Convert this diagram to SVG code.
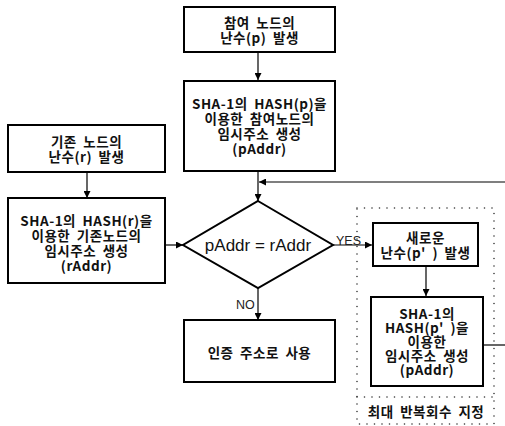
<svg xmlns="http://www.w3.org/2000/svg" width="505" height="426" viewBox="0 0 505 426">
<defs>
<marker id="arr" viewBox="0 0 10 10" refX="10" refY="5" markerWidth="7" markerHeight="7" markerUnits="userSpaceOnUse" orient="auto">
<path d="M0,0 L10,5 L0,10 z" fill="#000"/>
</marker>
<style>
.box{fill:#fff;stroke:#000;stroke-width:2}
.t{font-family:"Noto Sans CJK KR","Liberation Sans",sans-serif;font-weight:bold;font-size:13.5px;letter-spacing:0.5px;word-spacing:3px;text-anchor:middle;dominant-baseline:central;fill:#111}
.n{font-family:"Liberation Sans","Noto Sans CJK KR",sans-serif;font-size:12.5px;fill:#222}
.c{fill:none;stroke:#000;stroke-width:1.2}
.dot{fill:none;stroke:#333;stroke-width:1.6;stroke-linecap:round;stroke-dasharray:0 7.5}
</style>
</defs>
<rect width="505" height="426" fill="#fff"/>

<g id="group-dotted">
<path class="dot" d="M357,208 H494 V424 H357 Z"/>
<path class="dot" d="M357,397 H494"/>
<text class="t" x="426" y="411">최대 반복회수 지정</text>
</g>

<g id="connectors">
<path class="c" d="M258,52 V80" marker-end="url(#arr)"/>
<path class="c" d="M258,171 V201" marker-end="url(#arr)"/>
<path class="c" d="M505,182 H259" marker-end="url(#arr)"/>
<path class="c" d="M87,172 V198" marker-end="url(#arr)"/>
<path class="c" d="M165,245 H183" marker-end="url(#arr)"/>
<path class="c" d="M333,245 H372" marker-end="url(#arr)"/>
<path class="c" d="M258,288 V320" marker-end="url(#arr)"/>
<path class="c" d="M426,266 V296" marker-end="url(#arr)"/>
<path class="c" d="M483,345 H505"/>
<text class="n" x="336" y="245">YES</text>
<text class="n" x="236" y="309">NO</text>
</g>

<g id="node-p-rand">
<rect class="box" x="184" y="7" width="151" height="45"/>
<text class="t" x="259.5" y="22">참여 노드의</text>
<text class="t" x="259.5" y="37">난수(p) 발생</text>
</g>

<g id="node-p-hash">
<rect class="box" x="184" y="81" width="151" height="90"/>
<text class="t" x="259.5" y="103">SHA-1의 HASH(p)을</text>
<text class="t" x="259.5" y="118">이용한 참여노드의</text>
<text class="t" x="259.5" y="133">임시주소 생성</text>
<text class="t" x="259.5" y="148">(pAddr)</text>
</g>

<g id="node-r-rand">
<rect class="box" x="8" y="125" width="157" height="47"/>
<text class="t" x="86.5" y="141">기존 노드의</text>
<text class="t" x="86.5" y="156">난수(r) 발생</text>
</g>

<g id="node-r-hash">
<rect class="box" x="8" y="198" width="157" height="85"/>
<text class="t" x="86.5" y="220">SHA-1의 HASH(r)을</text>
<text class="t" x="86.5" y="235">이용한 기존노드의</text>
<text class="t" x="86.5" y="250">임시주소 생성</text>
<text class="t" x="86.5" y="265">(rAddr)</text>
</g>

<g id="node-compare">
<polygon points="258,201 333,245 258,288 183,245" fill="#fff" stroke="#000" stroke-width="2"/>
<text x="258" y="251" font-family="'Liberation Sans',sans-serif" font-size="17" text-anchor="middle" fill="#111">pAddr = rAddr</text>
</g>

<g id="node-use">
<rect class="box" x="184" y="320" width="151" height="62"/>
<text class="t" x="259.5" y="352">인증 주소로 사용</text>
</g>

<g id="node-new-rand">
<rect class="box" x="373" y="223" width="105" height="43"/>
<text class="t" x="425.5" y="237">새로운</text>
<text class="t" x="425.5" y="252">난수(p' ) 발생</text>
</g>

<g id="node-new-hash">
<rect class="box" x="371" y="297" width="112" height="89"/>
<text class="t" x="427" y="313">SHA-1의</text>
<text class="t" x="427" y="327">HASH(p' )을</text>
<text class="t" x="427" y="341">이용한</text>
<text class="t" x="427" y="355">임시주소 생성</text>
<text class="t" x="427" y="369">(pAddr)</text>
</g>
</svg>
